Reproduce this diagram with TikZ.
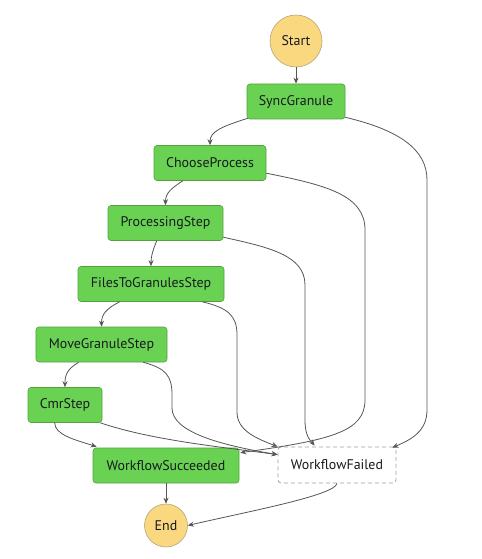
\documentclass[tikz,border=0pt]{standalone}
\usepackage{fontspec}
\setmainfont{PT Sans}
\usetikzlibrary{calc,arrows.meta}
\definecolor{stepgreen}{RGB}{106,210,82}
\definecolor{stepgreenborder}{RGB}{84,160,64}
\definecolor{terminalyellow}{RGB}{249,216,128}
\definecolor{terminalborder}{RGB}{180,165,125}
\definecolor{edgegray}{RGB}{85,85,85}
\definecolor{failgray}{RGB}{160,160,160}
\definecolor{txt}{RGB}{22,25,31}
\begin{document}
\begin{tikzpicture}[x=1bp,y=-1bp,
  stepbox/.style={draw=stepgreenborder,fill=stepgreen,rounded corners=3bp,line width=0.6bp,
    minimum height=35bp,inner sep=0pt,font=\fontsize{14}{16}\selectfont,text=txt},
  failbox/.style={draw=failgray,fill=white,rounded corners=3bp,line width=0.8bp,dash pattern=on 4bp off 3bp,
    minimum height=36bp,inner sep=0pt,font=\fontsize{14}{16}\selectfont,text=txt},
  terminal/.style={circle,draw=terminalborder,fill=terminalyellow,line width=0.6bp,inner sep=0pt,
    font=\fontsize{14}{16}\selectfont,text=txt},
  edge/.style={draw=edgegray,line width=0.8bp,-{Stealth[length=6bp,width=5bp]}}]
\useasboundingbox (0,0) rectangle (482,559);
\node[terminal,minimum size=52bp] (start) at (296,41) {Start};
\node[stepbox,minimum width=98bp] (sync) at (296,101.5) {SyncGranule};
\node[stepbox,minimum width=112bp] (choose) at (210,163) {ChooseProcess};
\node[stepbox,minimum width=115bp] (proc) at (165.5,223) {ProcessingStep};
\node[stepbox,minimum width=146bp] (files) at (151,284) {FilesToGranulesStep};
\node[stepbox,minimum width=131bp] (move) at (101.5,344.5) {MoveGranuleStep};
\node[stepbox,minimum width=74bp] (cmr) at (65,405) {CmrStep};
\node[stepbox,minimum width=146bp] (succ) at (166,465.5) {WorkflowSucceeded};
\node[failbox,minimum width=118bp] (failed) at (337,465) {WorkflowFailed};
\node[terminal,minimum size=43bp] (end) at (166,525.5) {End};

\draw[edge] (start) -- (sync);
\draw[edge] ($(sync.south west)+(1,-1)$) .. controls +(-25,8) and +(0,-14) .. (choose.north);
\draw[edge] ($(sync.south east)+(0,-2)$) .. controls +(55,13) and +(0,-30) .. (427,180) -- (427,410)
  .. controls (427,432) and (410,440) .. ($(failed.north east)+(-4,1)$);
\draw[edge] ($(choose.south west)+(29,0)$) .. controls +(-12,8) and +(0,-12) .. (proc.north);
\draw[edge] ($(choose.north east)+(0,28)$) .. controls +(60,12) and +(0,-35) .. (365,230) -- (365,400)
  .. controls (365,432) and (330,440) .. ($(succ.north east)+(1,5)$);
\draw[edge] ($(proc.south west)+(49,0)$) .. controls +(-4,10) and +(0,-10) .. (files.north);
\draw[edge] ($(proc.north east)+(0,32)$) .. controls +(45,10) and +(0,-30) .. (305,285) -- (305,420)
  .. controls (305,436) and (310,440) .. ($(failed.north west)+(37,-1)$);
\draw[edge] ($(files.south west)+(42,0)$) .. controls +(-14,7) and +(0,-12) .. (move.north);
\draw[edge] ($(files.south east)+(-22,0)$) .. controls +(25,6) and +(0,-20) .. (237,335) -- (237,412)
  .. controls (237,430) and (255,438) .. ($(failed.north west)+(0,0)$);
\draw[edge] ($(move.south west)+(43,0)$) .. controls +(-12,7) and +(0,-12) .. (cmr.north);
\draw[edge] ($(move.south east)+(-24,0)$) .. controls +(22,6) and +(0,-20) .. (172,395) -- (172,408)
  .. controls (172,432) and (220,445) .. ($(failed.north west)+(0,8)$);
\draw[edge] ($(cmr.south east)+(-2,0)$) .. controls +(50,17) and +(-60,-8) .. ($(failed.north west)+(0,8)$);
\draw[edge] ($(cmr.south west)+(27,0)$) .. controls +(0,12) and +(-22,-7) .. ($(succ.north west)+(4,-1)$);
\draw[edge] (succ) -- (end);
\draw[edge] (failed.south) .. controls +(-2,12) and +(60,-14) .. (end.east);
\end{tikzpicture}
\end{document}
